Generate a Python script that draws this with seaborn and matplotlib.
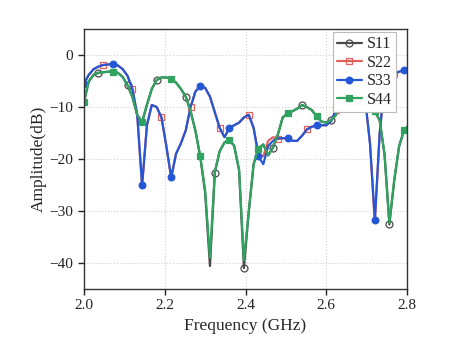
import numpy as np
import pandas as pd
import seaborn as sns
import matplotlib.pyplot as plt

# frequency sweep, 0.012 GHz step
freq = np.round(np.linspace(2.0, 2.804, 68), 3)

s44 = [-9.0, -5.0, -3.8, -3.4, -3.3, -3.2, -3.2, -3.4, -4.2, -5.8,
       -8.0, -11.5, -12.8, -9.5, -6.5, -4.8, -4.3, -4.3, -4.6, -5.3,
       -6.5, -8.0, -10.8, -14.5, -19.5, -26.0, -39.0, -22.5, -18.5, -16.8,
       -16.3, -17.5, -22.0, -39.5, -30.0, -21.0, -18.0, -17.2, -19.3, -17.8,
       -15.3, -12.0, -11.2, -10.8, -10.3, -9.6, -10.0, -10.6, -11.8, -12.8,
       -13.0, -12.5, -11.5, -9.0, -6.0, -4.0, -3.5, -4.0, -6.0, -8.5,
       -10.8, -12.5, -19.0, -32.3, -24.0, -17.5, -14.5, -13.5]

s11 = [-9.1, -5.1, -3.8, -3.4, -3.3, -3.2, -3.2, -3.4, -4.2, -5.8,
       -8.1, -11.6, -13.0, -9.6, -6.5, -4.8, -4.3, -4.3, -4.6, -5.3,
       -6.5, -8.0, -10.8, -14.6, -19.6, -26.5, -40.6, -22.6, -18.5, -16.8,
       -16.3, -17.5, -22.2, -41.0, -30.2, -21.0, -18.0, -17.2, -19.3, -17.8,
       -15.3, -12.0, -11.2, -10.8, -10.3, -9.6, -10.0, -10.6, -11.8, -12.8,
       -13.0, -12.5, -11.5, -9.0, -6.0, -4.0, -3.5, -4.0, -6.0, -8.5,
       -10.8, -12.6, -19.2, -32.6, -24.2, -17.6, -14.5, -13.5]

s33 = [-5.5, -3.8, -2.7, -2.2, -1.9, -1.8, -1.7, -2.0, -2.7, -4.0,
       -6.5, -11.5, -25.0, -13.5, -9.6, -10.0, -12.0, -17.5, -23.5, -19.0,
       -17.0, -14.5, -10.0, -7.0, -6.0, -6.3, -8.0, -11.0, -14.0, -15.8,
       -14.0, -13.5, -13.0, -12.0, -11.5, -14.0, -19.5, -21.0, -17.5, -16.5,
       -16.0, -16.0, -16.0, -16.5, -16.5, -15.5, -14.3, -13.8, -13.5, -13.5,
       -13.5, -12.7, -10.5, -7.0, -4.0, -2.5, -2.2, -3.5, -8.5, -17.0,
       -31.7, -15.0, -5.5, -4.2, -3.6, -3.2, -2.9, -2.8]

s22 = [-5.5, -3.8, -2.7, -2.2, -1.9, -1.8, -1.7, -2.0, -2.7, -4.0,
       -6.5, -11.5, -25.3, -13.5, -9.6, -10.0, -12.0, -17.5, -23.7, -19.0,
       -17.0, -14.5, -10.0, -7.0, -6.0, -6.3, -8.0, -11.0, -14.0, -15.8,
       -14.0, -13.5, -13.0, -12.0, -11.5, -14.0, -19.0, -19.5, -16.5, -15.8,
       -16.2, -16.0, -16.0, -16.5, -16.5, -15.5, -14.3, -13.8, -13.5, -13.5,
       -13.5, -12.7, -10.5, -7.0, -4.0, -2.5, -2.2, -3.5, -8.5, -17.0,
       -32.3, -15.0, -5.5, -4.2, -3.6, -3.2, -2.9, -2.8]

names = ['S11', 'S22', 'S33', 'S44']
curves = [s11, s22, s33, s44]
colors = ['#4a4a4a', '#e2615b', '#2457d6', '#2fa35f']
markers = ['o', 's', 'o', 's']
open_marker = [True, True, False, False]
offsets = [(3, 6), (4, 6), (0, 6), (0, 6)]

sns.set_style('ticks')
plt.rcParams['font.family'] = ['Liberation Serif', 'DejaVu Serif']

fig = plt.figure(figsize=(4.74, 3.51), dpi=100)
ax = fig.add_axes([0.177, 0.177, 0.682, 0.740])

for name, vals, c, m, op, me in zip(names, curves, colors, markers, open_marker, offsets):
    df = pd.DataFrame({'Frequency': freq, 'dB': vals})
    sns.lineplot(data=df, x='Frequency', y='dB', ax=ax, color=c, lw=1.6,
                 marker=m, markersize=5 if op else 4.8, markevery=me,
                 markerfacecolor='none' if op else c, markeredgecolor=c,
                 markeredgewidth=0.9, label=name, sort=False)

ax.set_xlim(2.0, 2.8)
ax.set_ylim(-45, 5)
ax.set_xticks([2.0, 2.2, 2.4, 2.6, 2.8])
ax.set_xticklabels(['2.0', '2.2', '2.4', '2.6', '2.8'])
ax.set_yticks([0, -10, -20, -30, -40])
ax.grid(True, ls=':', color='#d0d0d0', lw=0.8)
ax.tick_params(direction='out', length=4, width=1, labelsize=11, colors='#222222')
for sp in ax.spines.values():
    sp.set_color('#333333')
    sp.set_linewidth(1.0)

ax.set_xlabel('Frequency (GHz)', fontsize=12.5, labelpad=4)
ax.set_ylabel('Amplitude(dB)', fontsize=12.5, labelpad=2)

leg = ax.legend(loc='upper right', fontsize=11.5, frameon=True, fancybox=False,
                edgecolor='#bbbbbb', framealpha=1, handlelength=1.6,
                labelspacing=0.15, borderpad=0.25, handletextpad=0.3,
                borderaxespad=0.2, bbox_to_anchor=(0.975, 1.0))
leg.get_frame().set_linewidth(0.8)

fig.savefig('out.png', dpi=100)
